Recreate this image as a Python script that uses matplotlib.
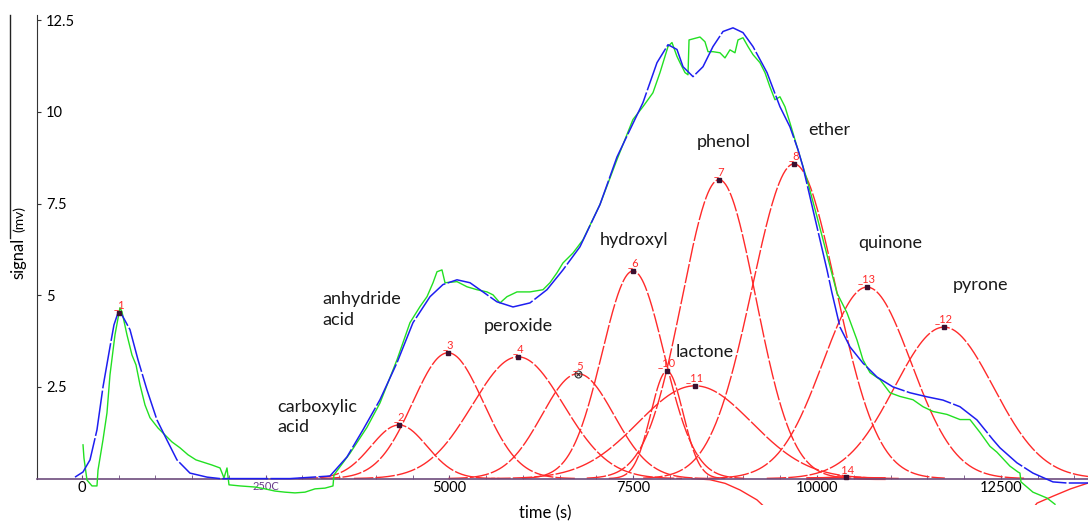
import numpy as np
import matplotlib.pyplot as plt
from matplotlib.lines import Line2D

plt.rcParams['font.family'] = ['Lato', 'DejaVu Sans']

# fitted peaks: number, centre (s), height (mV), sigma (s)
peak_ids = [1, 2, 3, 4, 5, 6, 7, 8, 10, 11, 12, 13, 14]
peak_centers = [505, 4313, 4980, 5932, 6748, 7497, 8667, 9687, 7959, 8340, 11728, 10680, 10394]
peak_heights = [4.52, 1.46, 3.43, 3.32, 2.86, 5.66, 8.15, 8.58, 2.93, 2.53, 4.13, 5.22, 0.03]
peak_widths = [None, 380, 480, 620, 490, 420, 500, 570, 220, 770, 670, 600, 150]

# measured signal (green)
meas_t = [14, 27, 68, 136, 204, 218, 286, 340, 381, 449, 517, 544, 612, 680, 735, 789,
          857, 925, 1034, 1129, 1224, 1333, 1442, 1551, 1673, 1769, 1878, 1932, 1973, 2000,
          2150, 2354, 2490, 2626, 2762, 2898, 3034, 3170, 3306, 3415, 3428, 3646, 3878, 4054,
          4286, 4462, 4599, 4694, 4776, 4830, 4898, 4939, 5102, 5238, 5374, 5510, 5592, 5687,
          5782, 5918, 6095, 6272, 6367, 6462, 6544, 6680, 6816, 7047, 7279, 7496, 7632, 7768,
          7864, 7973, 8027, 8095, 8136, 8204, 8245, 8259, 8367, 8408, 8476, 8517, 8585, 8680,
          8748, 8816, 8884, 8925, 8993, 9061, 9129, 9224, 9292, 9360, 9428, 9496, 9564, 9632,
          9728, 9864, 10000, 10136, 10272, 10408, 10544, 10625, 10721, 10857, 10993, 11129,
          11306, 11442, 11578, 11768, 11945, 12081, 12217, 12353, 12448, 12625, 12734, 12761,
          12775, 12938, 13129, 13238]
meas_v = [0.92, 0.56, -0.04, -0.20, -0.20, 0.23, 1.06, 1.79, 2.83, 3.92, 4.66, 4.55, 3.92,
          3.37, 3.10, 2.56, 2.01, 1.66, 1.38, 1.19, 1.00, 0.84, 0.65, 0.51, 0.43, 0.37, 0.29,
          0.02, 0.29, -0.17, -0.20, -0.23, -0.28, -0.34, -0.37, -0.39, -0.37, -0.28, -0.26,
          -0.20, 0.10, 0.69, 1.40, 2.06, 3.24, 4.25, 4.69, 4.96, 5.34, 5.64, 5.69, 5.34, 5.37,
          5.23, 5.15, 5.09, 5.01, 4.79, 4.96, 5.09, 5.09, 5.15, 5.34, 5.61, 5.88, 6.15, 6.51,
          7.47, 8.70, 9.79, 10.14, 10.52, 11.07, 11.78, 11.89, 11.51, 11.34, 11.07, 11.01,
          11.96, 12.02, 12.04, 11.91, 11.64, 11.64, 11.61, 11.47, 11.69, 11.61, 11.96, 12.02,
          11.78, 11.56, 11.34, 11.07, 10.68, 10.33, 10.41, 10.14, 9.70, 9.05, 8.15, 7.14, 6.10,
          5.06, 4.52, 3.78, 3.24, 2.89, 2.70, 2.34, 2.24, 2.15, 1.96, 1.83, 1.75, 1.61, 1.61,
          1.26, 0.88, 0.72, 0.34, 0.18, 0.15, -0.09, -0.37, -0.53, -0.70]

# fitted envelope (blue)
fit_t = [-95, 14, 109, 204, 286, 381, 435, 490, 544, 653, 762, 884, 1020, 1156, 1292, 1469,
         1701, 1878, 2830, 3374, 3605, 3823, 4054, 4286, 4503, 4735, 4911, 5102, 5279, 5456,
         5646, 5864, 6095, 6326, 6544, 6775, 7047, 7279, 7455, 7632, 7823, 7973, 8095, 8177,
         8313, 8449, 8585, 8721, 8857, 8993, 9129, 9320, 9496, 9632, 9741, 9809, 10000, 10136,
         10204, 10313, 10449, 10625, 10816, 11033, 11265, 11496, 11714, 11945, 12176, 12394,
         12489, 12720, 12938, 13210, 13401, 13687]
fit_v = [0.04, 0.18, 0.51, 1.33, 2.50, 3.59, 4.19, 4.52, 4.46, 4.06, 3.24, 2.42, 1.60, 1.05,
         0.51, 0.15, 0.04, 0.0, 0.0, 0.07, 0.59, 1.33, 2.15, 3.16, 4.25, 4.96, 5.29, 5.42,
         5.34, 5.09, 4.82, 4.68, 4.79, 5.15, 5.69, 6.32, 7.47, 8.77, 9.51, 10.25, 11.34, 11.83,
         11.70, 11.23, 10.96, 11.23, 11.78, 12.19, 12.29, 12.16, 11.78, 11.07, 10.14, 9.59,
         8.97, 8.50, 6.86, 5.69, 5.06, 4.13, 3.59, 3.15, 2.77, 2.50, 2.34, 2.23, 2.14, 1.96,
         1.60, 1.06, 0.84, 0.43, 0.15, -0.09, -0.12, -0.12]

# red pieces that dip below the baseline
dip1_t = [8300, 8544, 8750, 8952, 9183, 9300]
dip1_v = [0.0, -0.03, -0.13, -0.31, -0.58, -0.80]
dip2_t = [12950, 12993, 13210, 13450, 13690]
dip2_v = [-0.78, -0.67, -0.48, -0.28, -0.12]

# group names written on the chart
group_names = ["carboxylic\nacid", "anhydride\nacid", "peroxide", "hydroxyl", "phenol",
               "ether", "quinone", "pyrone", "lactone"]
group_t = [2653, 3265, 5469, 7047, 8367, 9877, 10557, 11850, 8081]
group_v = [1.68, 4.61, 4.17, 6.51, 9.18, 9.51, 6.43, 5.28, 3.46]

y_ticks = [2.5, 5, 7.5, 10, 12.5]
y_labels = ["2.5", "5", "7.5", "10", "12.5"]
x_ticks = [0, 2500, 5000, 7500, 10000, 12500]
x_labels = ["0", "250C", "5000", "7500", "10000", "12500"]

RED = '#ff2a2a'
W, H = 1088, 523


def draw_peaks(ax):
    for pid, c, h, s in zip(peak_ids, peak_centers, peak_heights, peak_widths):
        if s is not None:
            t = np.linspace(c - 3.6 * s, c + 3.6 * s, 300)
            lw = 2.2 if pid == 14 else 1.0
            ax.plot(t, h * np.exp(-0.5 * ((t - c) / s) ** 2), color=RED, lw=lw,
                    dashes=(14, 1.5), zorder=2)
        if pid == 5:
            ax.plot(c, h, marker='o', ms=5, mfc='none', mec='#333333', mew=0.8, zorder=4)
            ax.plot(c, h, marker='x', ms=3.5, color='#333333', mew=0.8, zorder=4)
        else:
            ax.plot(c, h, marker='s', ms=2.5, color='#3a1030', zorder=4)
        ax.annotate("_" + str(pid), (c, h), xytext=(0, 2), textcoords='offset points',
                    ha='center', va='bottom', color=RED, fontsize=8, zorder=4)
    ax.plot(dip1_t, dip1_v, color=RED, lw=1.0, zorder=2)
    ax.plot(dip2_t, dip2_v, color=RED, lw=1.0, zorder=2)


def main():
    fig = plt.figure(figsize=(W / 100, H / 100), dpi=100)
    ax = fig.add_axes([37 / W, 18 / H, 1 - 37 / W, (505 - 15) / H])
    ax.set_xlim(-612, 13687)
    ax.set_ylim(-0.72, 12.64)

    draw_peaks(ax)
    ax.plot(meas_t, meas_v, color='#22e022', lw=1.0, zorder=3)
    ax.plot(fit_t, fit_v, color='#1e1ef0', lw=1.1, dashes=(30, 1.5), zorder=3)

    for name, t, v in zip(group_names, group_t, group_v):
        ax.text(t, v, name, ha='left', va='center', fontsize=13, color='#1a1a1a',
                linespacing=1.35)

    for side in ['top', 'right']:
        ax.spines[side].set_visible(False)
    ax.spines['left'].set_bounds(0, 12.64)
    ax.spines['left'].set_color('#333333')
    ax.spines['bottom'].set_position(('data', 0))
    ax.spines['bottom'].set_color('#6d4c7d')
    ax.spines['bottom'].set_linewidth(1.2)

    ax.set_yticks(y_ticks, y_labels)
    ax.tick_params(axis='y', direction='in', length=3, pad=-6.5, labelsize=10.5,
                   color='#333333')
    for lab in ax.get_yticklabels():
        lab.set_ha('left')

    ax.set_xticks(x_ticks, x_labels)
    ax.set_xticks(np.arange(0, 13600, 500), minor=True)
    ax.tick_params(axis='x', which='both', direction='in', length=3, pad=2,
                   labelsize=10.5, color='#6d4c7d')
    lab2500 = ax.get_xticklabels()[1]
    lab2500.set_color('#6a3d8a')
    lab2500.set_fontsize(8)

    fig.text(545 / W, 1 - 513 / H, "time (s)", ha='center', va='center', fontsize=12)
    fig.text(18 / W, 1 - 258 / H, "signal", rotation=90, ha='center', va='center',
             fontsize=12)
    fig.text(19 / W, 1 - 219 / H, "(mv)", rotation=90, ha='center', va='center',
             fontsize=10)
    fig.add_artist(Line2D([10 / W, 10 / W], [1 - 15 / H, 1 - 238 / H], color='#222222',
                          lw=1.0))

    fig.savefig("out.png", dpi=100)


if __name__ == "__main__":
    main()
